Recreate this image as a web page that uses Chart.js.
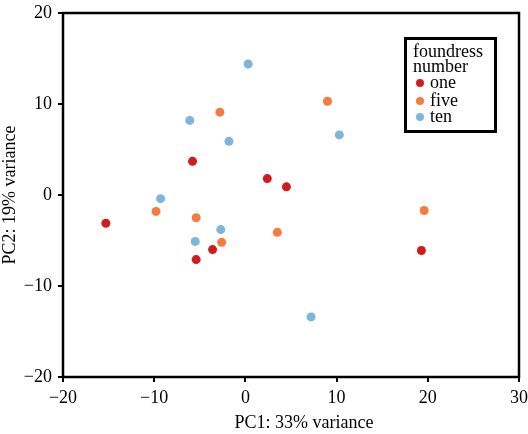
<!DOCTYPE html>
<html>
<head>
<meta charset="utf-8">
<script src="https://cdn.jsdelivr.net/npm/chart.js@4"></script>
<style>
  html, body { margin: 0; padding: 0; background: #fff; }
  #wrap { width: 528px; height: 434px; }
</style>
</head>
<body>
<div id="wrap"><canvas id="myChart" width="528" height="434"></canvas></div>
<script>
// PCA scores
var oneX = [-15.3, -5.8, 2.4, 4.5, -3.6, -5.4, 19.3];
var oneY = [-3.1, 3.7, 1.8, 0.9, -6.0, -7.1, -6.1];
var fiveX = [-2.8, 9.0, -9.8, -5.4, -2.6, 19.6, 3.5];
var fiveY = [9.1, 10.3, -1.8, -2.5, -5.2, -1.7, -4.1];
var tenX = [0.3, -6.1, -1.8, 10.3, -9.3, -5.5, -2.7, 7.2];
var tenY = [14.4, 8.2, 5.9, 6.6, -0.4, -5.1, -3.8, -13.4];

var seriesNames = ['one', 'five', 'ten'];
var xTicks = [-20, -10, 0, 10, 20, 30];
var yTicks = [-20, -10, 0, 10, 20];
var xTitle = 'PC1: 33% variance';
var yTitle = 'PC2: 19% variance';
var legendTitle = ['foundress', 'number'];

var colors = ['#d01c1f', '#f57c3e', '#7db5dc'];
var serif = "'Liberation Serif', 'DejaVu Serif', serif";

function toPoints(xs, ys) {
    return xs.map((x, i) => ({ x: x, y: ys[i] }));
}

function fmt(v) {
    return v < 0 ? '\u2212' + Math.abs(v) : String(v);
}

// frame, axis titles and the boxed legend inside the plot
var extras = {
    id: 'extras',
    afterDraw: function(chart) {
        var c = chart.ctx;
        var a = chart.chartArea;
        c.save();
        c.strokeStyle = '#000';
        c.lineWidth = 2.5;
        c.strokeRect(a.left, a.top, a.right - a.left, a.bottom - a.top);

        c.fillStyle = '#000';
        c.font = '18px ' + serif;
        c.textAlign = 'center';
        c.textBaseline = 'alphabetic';
        c.fillText(xTitle, 304, 428);
        c.save();
        c.translate(15, (a.top + a.bottom) / 2);
        c.rotate(-Math.PI / 2);
        c.fillText(yTitle, 0, 0);
        c.restore();

        // legend
        c.lineWidth = 3;
        c.strokeRect(405.5, 38.5, 90, 93);
        c.textAlign = 'left';
        c.textBaseline = 'middle';
        c.font = '18px ' + serif;
        c.fillText(legendTitle[0], 413, 52);
        c.fillText(legendTitle[1], 413, 67);
        var ys = [83, 101, 117];
        chart.data.datasets.forEach(function(ds, i) {
            c.beginPath();
            c.arc(420, ys[i], 4, 0, Math.PI * 2);
            c.fillStyle = ds.backgroundColor;
            c.fill();
            c.fillStyle = '#000';
            c.fillText(ds.label, 430, ys[i]);
        });
        c.restore();
    }
};

var ctx = document.getElementById('myChart').getContext('2d');
var myChart = new Chart(ctx, {
    type: 'scatter',
    data: {
        datasets: [{
            label: seriesNames[0],
            data: toPoints(oneX, oneY),
            backgroundColor: colors[0],
            borderWidth: 0,
            pointRadius: 4.5
        }, {
            label: seriesNames[1],
            data: toPoints(fiveX, fiveY),
            backgroundColor: colors[1],
            borderWidth: 0,
            pointRadius: 4.5
        }, {
            label: seriesNames[2],
            data: toPoints(tenX, tenY),
            backgroundColor: colors[2],
            borderWidth: 0,
            pointRadius: 4.5
        }]
    },
    options: {
        responsive: false,
        animation: false,
        layout: { padding: { top: 13, right: 9, left: 0, bottom: 0 } },
        plugins: {
            legend: { display: false },
            tooltip: { enabled: false }
        },
        scales: {
            x: {
                type: 'linear',
                min: -20,
                max: 30,
                afterBuildTicks: function(scale) {
                    scale.ticks = xTicks.map(v => ({ value: v }));
                },
                afterFit: function(scale) {
                    scale.height = 57;
                    scale.paddingLeft = 0;
                    scale.paddingRight = 0;
                },
                border: { display: false },
                grid: {
                    drawOnChartArea: false,
                    drawTicks: true,
                    tickLength: 5,
                    color: '#000',
                    lineWidth: 2
                },
                ticks: {
                    color: '#000',
                    padding: 5,
                    maxRotation: 0,
                    font: { family: serif, size: 18 },
                    callback: fmt
                }
            },
            y: {
                type: 'linear',
                min: -20,
                max: 20,
                afterBuildTicks: function(scale) {
                    scale.ticks = yTicks.map(v => ({ value: v }));
                },
                afterFit: function(scale) {
                    scale.width = 63;
                    scale.paddingTop = 0;
                    scale.paddingBottom = 0;
                },
                border: { display: false },
                grid: {
                    drawOnChartArea: false,
                    drawTicks: true,
                    tickLength: 5,
                    color: '#000',
                    lineWidth: 2
                },
                ticks: {
                    color: '#000',
                    padding: 6,
                    font: { family: serif, size: 18 },
                    callback: fmt
                }
            }
        }
    },
    plugins: [extras]
});
</script>
</body>
</html>
